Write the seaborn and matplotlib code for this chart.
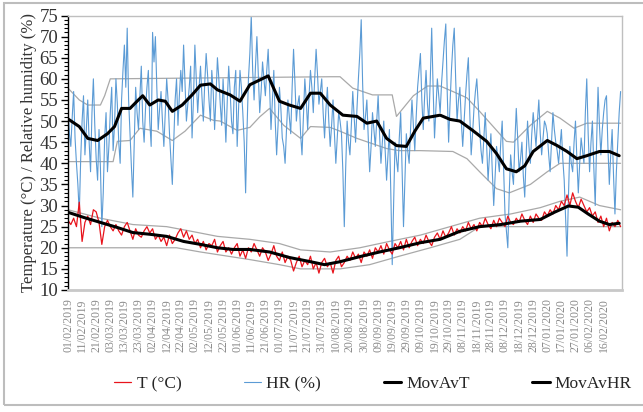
import numpy as np
import pandas as pd
import matplotlib
matplotlib.use("Agg")
import matplotlib.pyplot as plt
from matplotlib.patches import Rectangle
from matplotlib.ticker import MultipleLocator
import seaborn as sns

# ---- data (day 0 = 01/02/2019) ----
# daily relative humidity (%)
hr_values = [
    53, 47, 44, 51, 57, 46, 40, 35, 28, 41, 50, 56, 42, 48, 55, 45, 38, 52, 60, 49,
    41, 36, 48, 39, 25, 33, 46, 52, 38, 44, 52, 58, 43, 49, 60, 54, 45, 40, 55, 62,
    68, 58, 72, 55, 47, 39, 32, 45, 58, 52, 48, 56, 63, 50, 45, 53, 58, 62, 50, 44,
    71, 64, 70, 58, 48, 53, 57, 50, 44, 52, 60, 55, 47, 41, 35, 45, 55, 60, 49, 56,
    62, 57, 68, 59, 50, 54, 58, 63, 46, 55, 68, 60, 52, 58, 63, 56, 50, 59, 66, 61,
    55, 50, 62, 57, 48, 56, 65, 60, 54, 49, 60, 53, 45, 55, 63, 57, 50, 47, 58, 62,
    44, 53, 62, 58, 52, 45, 33, 48, 60, 66, 75, 62, 55, 63, 70, 61, 52, 57, 64, 60,
    56, 62, 67, 58, 48, 55, 62, 50, 42, 49, 58, 53, 46, 44, 40, 48, 55, 51, 47, 58,
    67, 59, 50, 54, 56, 47, 42, 51, 60, 55, 48, 56, 62, 58, 52, 60, 67, 61, 54, 57,
    60, 52, 46, 53, 58, 50, 44, 49, 55, 47, 40, 46, 52, 50, 47, 38, 25, 39, 50, 45,
    42, 49, 57, 51, 45, 53, 60, 66, 74, 59, 48, 51, 55, 46, 38, 44, 52, 48, 44, 50,
    56, 47, 40, 45, 50, 43, 36, 42, 48, 33, 16, 30, 45, 41, 38, 46, 52, 39, 25, 36,
    47, 43, 40, 48, 55, 49, 43, 51, 58, 62, 66, 55, 48, 56, 62, 54, 50, 60, 72, 58,
    46, 53, 60, 56, 52, 59, 64, 69, 73, 57, 45, 54, 62, 68, 72, 60, 50, 55, 58, 50,
    44, 50, 56, 61, 65, 52, 42, 47, 53, 57, 60, 54, 48, 43, 40, 46, 52, 44, 36, 42,
    47, 38, 30, 37, 44, 41, 38, 45, 50, 39, 28, 24, 20, 33, 42, 38, 35, 45, 53, 46,
    38, 41, 45, 37, 32, 42, 50, 44, 40, 47, 52, 48, 44, 50, 55, 47, 42, 46, 50, 49,
    47, 42, 38, 45, 52, 48, 45, 43, 40, 44, 48, 41, 36, 27, 18, 32, 44, 40, 38, 45,
    50, 41, 33, 40, 46, 43, 40, 52, 60, 47, 38, 45, 50, 39, 30, 45, 58, 49, 42, 48,
    52, 55, 56, 44, 35, 42, 48, 37, 28, 38, 45, 52, 57,
]
hr_step = 1

# temperature (°C) every second day
t_values = [
    26.5, 25.5, 27, 25, 30.8, 21.5, 26, 27.5, 25.5, 29, 28.5, 26, 20.8, 25, 26.5, 25, 24, 25.5, 24, 23,
    25, 26, 24, 22, 24.5, 23, 22.5, 24, 25, 23.5, 24.5, 22, 23, 21.5, 22.5, 20.5, 23, 21, 22, 23.5,
    24.5, 22.5, 24, 22, 23, 21, 22, 20, 21.5, 19.5, 21, 20.5, 22, 19, 20.5, 21.5, 19, 20, 18.5, 20,
    21, 18, 19.5, 17.5, 20, 19, 21, 19.5, 18, 20, 19, 17, 18.5, 20.5, 18, 17, 19, 16.5, 18, 17,
    14.5, 16.5, 18, 15.5, 17, 16, 18, 15, 16.5, 14, 16.5, 17.5, 15.5, 16.5, 14, 17, 18, 15.5, 16.5, 18,
    17, 19, 17.5, 18.5, 16.5, 19, 18, 19.5, 17.5, 20, 19, 20.5, 18.5, 21, 19.5, 18.5, 21, 20, 21.5, 19.5,
    22, 20, 21.5, 22.5, 20.5, 22, 21, 23, 21.5, 20.5, 22.5, 23.5, 22, 24, 22.5, 23.5, 25, 23, 24.5, 23.5,
    25, 24, 26, 24.5, 25.5, 24, 26, 25, 27, 25.5, 24.5, 26.5, 25, 27, 26, 25, 27.5, 26, 25.5, 27,
    26, 28, 26.5, 25.5, 27.5, 26, 28, 27, 26.5, 28.5, 27.5, 29, 28, 30, 29, 31, 30, 32.5, 30, 33,
    31, 29.5, 31.5, 30, 28.5, 29.5, 27.5, 28.5, 26, 27.5, 25, 27, 24, 26, 25, 26.5, 25,
]
t_step = 2

mov_t_days = [0, 11, 23, 35, 46, 58, 70, 82, 94, 106, 117, 129, 143, 157, 172, 182, 193,
              207, 221, 235, 250, 264, 278, 292, 307, 321, 335, 345, 355, 362, 369, 377, 384, 391]
mov_t_values = [28.4, 27.2, 26, 24.8, 23.6, 23.2, 22.7, 21.5, 20.8, 20, 19.6, 19.6, 19, 17.7,
                16.7, 16, 16.7, 17.9, 19, 20, 21.2, 22, 23.9, 25, 25.5, 26.3, 26.7, 28.4, 29.9,
                29.6, 28, 26.3, 25.5, 25.8]

mov_hr_days = [0, 8, 14, 21, 28, 33, 38, 44, 49, 53, 58, 64, 69, 74, 81, 88, 94, 101, 106,
               115, 122, 129, 142, 150, 157, 165, 172, 179, 186, 195, 205, 212, 219, 226,
               233, 240, 246, 252, 259, 264, 271, 278, 287, 297, 304, 311, 318, 324, 330,
               340, 347, 354, 361, 368, 377, 384, 391]
mov_hr_values = [50.5, 48.7, 45.9, 45.4, 47, 48.7, 53, 53, 54.7, 56, 53.8, 55, 54.7, 52.3,
                 53.8, 56.2, 58.5, 58.8, 57.4, 56.2, 54.7, 58.6, 60.7, 54.7, 53.8, 53, 56.6,
                 56.6, 53.8, 51.4, 51.1, 49.5, 50, 45.9, 44.2, 44, 47.6, 50.7, 51.1, 51.4,
                 50.4, 50, 47.8, 45.2, 42.3, 38.7, 38, 39.4, 42.8, 45.4, 44.2, 42.8, 41.1,
                 41.8, 42.8, 42.8, 41.8]

hr_hi_days = [0, 8, 14, 23, 26, 30, 186, 193, 202, 216, 230, 233, 245, 255, 264, 273, 283,
              292, 311, 316, 328, 340, 349, 359, 368, 392]
hr_hi_values = [57.8, 55, 53.8, 53.8, 56, 60, 60.5, 60.5, 57.8, 56.2, 56.2, 51.1, 56, 58.3,
                58.3, 57, 55.5, 52.3, 45.2, 45, 49, 52.3, 50.7, 48.3, 49.5, 49.5]
hr_lo_days = [0, 32, 35, 44, 51, 63, 74, 83, 94, 103, 108, 120, 129, 136, 143, 153, 165,
              172, 186, 193, 205, 226, 235, 250, 273, 283, 292, 304, 313, 328, 340, 349, 361, 392]
hr_lo_values = [40.4, 40.4, 45.2, 45.4, 48.3, 47.6, 45.4, 47.6, 51.4, 50.2, 50, 47.8, 48.5,
                51, 53, 49, 45.9, 48.7, 48.5, 47.6, 45.9, 43.5, 43, 43, 42.8, 41.1, 38, 34,
                33, 35, 38, 40, 40, 40]

t_hi_days = [0, 23, 46, 70, 86, 106, 129, 150, 165, 186, 207, 228, 250, 271, 292, 314, 335,
             349, 363, 377, 392]
t_hi_values = [29, 27, 25.5, 25, 24, 22.7, 22, 21, 19.5, 19, 20, 21.5, 23, 25, 27, 28, 29.5,
               31, 32, 30, 29]
t_lo_days = [0, 77, 94, 129, 150, 165, 193, 214, 235, 257, 278, 292, 392]
t_lo_values = [20, 20, 19, 17.2, 16, 15, 15, 16, 18, 20, 22, 25, 25]

tick_labels = [
    "01/02/2019", "11/02/2019", "21/02/2019", "03/03/2019", "13/03/2019", "23/03/2019",
    "02/04/2019", "12/04/2019", "22/04/2019", "02/05/2019", "12/05/2019", "22/05/2019",
    "01/06/2019", "11/06/2019", "21/06/2019", "01/07/2019", "11/07/2019", "21/07/2019",
    "31/07/2019", "10/08/2019", "20/08/2019", "30/08/2019", "09/09/2019", "19/09/2019",
    "29/09/2019", "09/10/2019", "19/10/2019", "29/10/2019", "08/11/2019", "18/11/2019",
    "28/11/2019", "08/12/2019", "18/12/2019", "28/12/2019", "07/01/2020", "17/01/2020",
    "27/01/2020", "06/02/2020", "16/02/2020",
]
tick_step = 10

# ---- frames ----
hr_df = pd.DataFrame({"day": np.arange(len(hr_values)) * hr_step, "HR": hr_values})
t_df = pd.DataFrame({"day": np.arange(len(t_values)) * t_step, "T": t_values})

sns.set_style("white")
plt.rcParams["font.family"] = ["Liberation Serif", "DejaVu Serif"]

W, H = 643, 412
fig = plt.figure(figsize=(W / 100, H / 100), dpi=100)
ax = fig.add_axes([68 / W, 1 - 290 / H, (622 - 68) / W, (290 - 15.5) / H])

band = dict(color="#A9A9A9", linewidth=0.9, legend=False, ax=ax)
sns.lineplot(x=hr_hi_days, y=hr_hi_values, **band)
sns.lineplot(x=hr_lo_days, y=hr_lo_values, **band)
sns.lineplot(x=t_hi_days, y=t_hi_values, **band)
sns.lineplot(x=t_lo_days, y=t_lo_values, **band)

sns.lineplot(data=hr_df, x="day", y="HR", color="#5B9BD5", linewidth=0.8,
             label="HR (%)", ax=ax, legend=False)
sns.lineplot(data=t_df, x="day", y="T", color="#E8141C", linewidth=0.9,
             label="T (°C)", ax=ax, legend=False)
sns.lineplot(x=mov_t_days, y=mov_t_values, color="black", linewidth=2.2,
             label="MovAvT", ax=ax, legend=False)
sns.lineplot(x=mov_hr_days, y=mov_hr_values, color="black", linewidth=2.2,
             label="MovAvHR", ax=ax, legend=False)

ax.set_xlim(0, 393)
ax.set_ylim(10, 75)
ax.yaxis.set_major_locator(MultipleLocator(5))
ax.yaxis.set_minor_locator(MultipleLocator(1))
ax.tick_params(axis="y", which="major", length=5, width=1, color="black",
               labelsize=13.5, labelcolor="#333333", direction="out", left=True, pad=2)
ax.tick_params(axis="y", which="minor", length=3, width=0.8, color="black",
               direction="out", left=True)

ax.set_xticks(np.arange(len(tick_labels)) * tick_step)
ax.set_xticklabels(tick_labels, rotation=90, fontsize=8.5, color="#8A8A8A")
ax.tick_params(axis="x", length=0, pad=6)

ax.set_xlabel("")
ax.set_ylabel("Temperature (°C) / Relative humidity (%)", fontsize=12, color="#333333",
              labelpad=2)

for side in ("top", "right"):
    ax.spines[side].set_color("#BFBFBF")
    ax.spines[side].set_linewidth(1.0)
ax.spines["bottom"].set_color("#C8C8C8")
ax.spines["bottom"].set_linewidth(2.0)
ax.spines["left"].set_color("black")
ax.spines["left"].set_linewidth(1.0)

handles, labels = ax.get_legend_handles_labels()
order = ["T (°C)", "HR (%)", "MovAvT", "MovAvHR"]
hmap = dict(zip(labels, handles))
fig.legend([hmap[k] for k in order], order, loc="center", bbox_to_anchor=(0.58, 1 - 384 / H),
           ncol=4, frameon=False, fontsize=12.5, handlelength=1.0, handletextpad=0.3,
           columnspacing=3.6)

# outer frame (open on the right)
fig.add_artist(Rectangle((4 / W, 1 - 405 / H), 1.0, (405 - 3) / H,
                         transform=fig.transFigure, fill=False, edgecolor="#BDBDBD",
                         linewidth=1.5))

fig.savefig("out.png", dpi=100)
